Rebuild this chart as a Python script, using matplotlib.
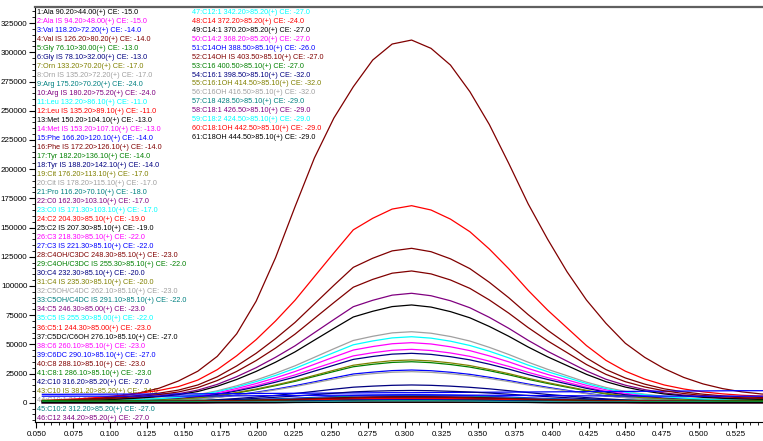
import numpy as np
import matplotlib
matplotlib.use("Agg")
import matplotlib.pyplot as plt
from matplotlib.ticker import MultipleLocator, FuncFormatter

plt.rcParams['font.family'] = ['Liberation Sans Narrow', 'Liberation Sans', 'DejaVu Sans']

# scan times (min)
t = [0.0540, 0.0672, 0.0804, 0.0936, 0.1068, 0.1200, 0.1332, 0.1464, 0.1596, 0.1728,
     0.1860, 0.1992, 0.2124, 0.2256, 0.2388, 0.2520, 0.2652, 0.2784, 0.2916, 0.3048,
     0.3180, 0.3312, 0.3444, 0.3576, 0.3708, 0.3840, 0.3972, 0.4104, 0.4236, 0.4368,
     0.4500, 0.4632, 0.4764, 0.4896, 0.5028, 0.5160, 0.5292, 0.5424, 0.5556]

labels = [
    "1:Ala 90.20>44.00(+) CE: -15.0", "2:Ala IS 94.20>48.00(+) CE: -15.0",
    "3:Val 118.20>72.20(+) CE: -14.0", "4:Val IS 126.20>80.20(+) CE: -14.0",
    "5:Gly 76.10>30.00(+) CE: -13.0", "6:Gly IS 78.10>32.00(+) CE: -13.0",
    "7:Orn 133.20>70.20(+) CE: -17.0", "8:Orn IS 135.20>72.20(+) CE: -17.0",
    "9:Arg 175.20>70.20(+) CE: -24.0", "10:Arg IS 180.20>75.20(+) CE: -24.0",
    "11:Leu 132.20>86.10(+) CE: -11.0", "12:Leu IS 135.20>89.10(+) CE: -11.0",
    "13:Met 150.20>104.10(+) CE: -13.0", "14:Met IS 153.20>107.10(+) CE: -13.0",
    "15:Phe 166.20>120.10(+) CE: -14.0", "16:Phe IS 172.20>126.10(+) CE: -14.0",
    "17:Tyr 182.20>136.10(+) CE: -14.0", "18:Tyr IS 188.20>142.10(+) CE: -14.0",
    "19:Cit 176.20>113.10(+) CE: -17.0", "20:Cit IS 178.20>115.10(+) CE: -17.0",
    "21:Pro 116.20>70.10(+) CE: -18.0", "22:C0 162.30>103.10(+) CE: -17.0",
    "23:C0 IS 171.30>103.10(+) CE: -17.0", "24:C2 204.30>85.10(+) CE: -19.0",
    "25:C2 IS 207.30>85.10(+) CE: -19.0", "26:C3 218.30>85.10(+) CE: -22.0",
    "27:C3 IS 221.30>85.10(+) CE: -22.0", "28:C4OH/C3DC 248.30>85.10(+) CE: -23.0",
    "29:C4OH/C3DC IS 255.30>85.10(+) CE: -22.0", "30:C4 232.30>85.10(+) CE: -20.0",
    "31:C4 IS 235.30>85.10(+) CE: -20.0", "32:C5OH/C4DC 262.10>85.10(+) CE: -23.0",
    "33:C5OH/C4DC IS 291.10>85.10(+) CE: -22.0", "34:C5 246.30>85.00(+) CE: -23.0",
    "35:C5 IS 255.30>85.00(+) CE: -22.0", "36:C5:1 244.30>85.00(+) CE: -23.0",
    "37:C5DC/C6OH 276.10>85.10(+) CE: -27.0", "38:C6 260.10>85.10(+) CE: -23.0",
    "39:C6DC 290.10>85.10(+) CE: -27.0", "40:C8 288.10>85.10(+) CE: -23.0",
    "41:C8:1 286.10>85.10(+) CE: -23.0", "42:C10 316.20>85.20(+) CE: -27.0",
    "43:C10 IS 381.20>85.20(+) CE: -34.0", "44:C10:1 314.20>85.20(+) CE: -27.0",
    "45:C10:2 312.20>85.20(+) CE: -27.0", "46:C12 344.20>85.20(+) CE: -27.0",
    "47:C12:1 342.20>85.20(+) CE: -27.0", "48:C14 372.20>85.20(+) CE: -24.0",
    "49:C14:1 370.20>85.20(+) CE: -27.0", "50:C14:2 368.20>85.20(+) CE: -27.0",
    "51:C14OH 388.50>85.10(+) CE: -26.0", "52:C14OH IS 403.50>85.10(+) CE: -27.0",
    "53:C16 400.50>85.10(+) CE: -27.0", "54:C16:1 398.50>85.10(+) CE: -32.0",
    "55:C16:1OH 414.50>85.10(+) CE: -32.0", "56:C16OH 416.50>85.10(+) CE: -32.0",
    "57:C18 428.50>85.10(+) CE: -29.0", "58:C18:1 426.50>85.10(+) CE: -29.0",
    "59:C18:2 424.50>85.10(+) CE: -29.0", "60:C18:1OH 442.50>85.10(+) CE: -29.0",
    "61:C18OH 444.50>85.10(+) CE: -29.0",
]

# intensities in thousands of counts, one list per MRM channel
s01 = [.2, .2, .2, .2, .2, .2, .3, .3, .3, .4, .4, .5, .6, .7, .8, 1.0, 1.1, 1.1, 1.2, 1.2, 1.2, 1.1, 1.1, 1.0, .9, .8, .7, .6, .5, .4, .4, .3, .3, .3, .3, .2, .2, .2, .2]
s02 = [.6, .8, 1.1, 1.4, 1.9, 2.5, 3.2, 4.2, 5.9, 8.6, 12.2, 16.4, 21.3, 26.7, 32.9, 39.1, 45.1, 48.1, 50.5, 51.4, 50.3, 47.9, 44.6, 40.1, 35.0, 29.3, 24.2, 19.5, 14.9, 11.1, 8.2, 6.2, 4.6, 3.6, 2.8, 2.3, 2.0, 1.7, 1.6]
s03 = [.9, .9, .9, 1.0, 1.0, 1.1, 1.2, 1.3, 1.5, 1.8, 2.2, 2.7, 3.3, 3.9, 4.6, 5.4, 6.1, 6.4, 6.7, 6.8, 6.7, 6.4, 6.0, 5.5, 4.9, 4.2, 3.6, 3.1, 2.5, 2.1, 1.8, 1.5, 1.3, 1.2, 1.1, 1.1, 1.0, 1.0, 1.0]
s04 = [1.5, 1.9, 2.8, 4.0, 5.9, 8.4, 12.4, 18.6, 27.0, 39.7, 59.0, 86.9, 124.2, 167.7, 209.6, 243.7, 270.5, 293.4, 307.1, 310.5, 303.4, 289.1, 266.3, 238.2, 204.9, 170.2, 140.0, 112.1, 87.9, 68.0, 50.9, 38.8, 29.2, 21.7, 16.1, 12.1, 9.3, 7.5, 6.2]
s05 = [.3, .3, .3, .4, .4, .4, .4, .5, .5, .6, .8, .9, 1.1, 1.3, 1.6, 1.8, 2.1, 2.2, 2.3, 2.3, 2.3, 2.2, 2.0, 1.9, 1.7, 1.4, 1.2, 1.1, .9, .7, .6, .5, .5, .4, .4, .4, .4, .4, .4]
s06 = [.2, .2, .3, .4, .6, .7, .9, 1.2, 1.7, 2.6, 3.6, 4.9, 6.3, 7.9, 9.7, 11.6, 13.3, 14.2, 14.9, 15.2, 14.9, 14.2, 13.2, 11.9, 10.3, 8.7, 7.1, 5.8, 4.4, 3.3, 2.4, 1.8, 1.4, 1.1, .8, .7, .6, .5, .5]
s07 = [1.0, 1.1, 1.1, 1.1, 1.1, 1.1, 1.2, 1.3, 1.4, 1.5, 1.7, 2.0, 2.3, 2.6, 2.9, 3.3, 3.6, 3.8, 4.0, 4.0, 3.9, 3.8, 3.6, 3.3, 3.0, 2.7, 2.4, 2.1, 1.9, 1.7, 1.5, 1.4, 1.3, 1.2, 1.2, 1.1, 1.1, 1.1, 1.1]
s08 = [.7, 1.0, 1.3, 1.7, 2.2, 2.9, 3.8, 5.0, 7.0, 10.2, 14.5, 19.5, 25.2, 31.6, 38.9, 46.2, 53.3, 56.9, 59.8, 60.8, 59.5, 56.7, 52.8, 47.4, 41.3, 34.7, 28.6, 23.1, 17.6, 13.1, 9.7, 7.3, 5.5, 4.3, 3.3, 2.7, 2.3, 2.1, 1.9]
s09 = [.8, .8, .9, .9, 1.0, 1.0, 1.1, 1.2, 1.4, 1.7, 2.0, 2.5, 3.0, 3.6, 4.2, 4.9, 5.5, 5.8, 6.1, 6.2, 6.1, 5.8, 5.4, 5.0, 4.4, 3.8, 3.3, 2.8, 2.3, 1.9, 1.6, 1.4, 1.2, 1.1, 1.0, 1.0, .9, .9, .9]
s10 = [.3, .3, .4, .4, .4, .4, .5, .5, .6, .7, .8, 1.0, 1.2, 1.4, 1.7, 1.9, 2.2, 2.3, 2.4, 2.4, 2.4, 2.3, 2.1, 1.9, 1.7, 1.5, 1.3, 1.1, .9, .8, .6, .5, .5, .4, .4, .4, .4, .4, .4]
s11 = [.6, .6, .6, .6, .7, .7, .8, .9, 1.0, 1.3, 1.6, 1.9, 2.4, 2.8, 3.4, 3.9, 4.4, 4.7, 4.9, 5.0, 4.9, 4.7, 4.4, 4.0, 3.6, 3.1, 2.6, 2.2, 1.8, 1.5, 1.2, 1.0, .9, .8, .8, .7, .7, .7, .6]
s12 = [2.0, 2.7, 3.5, 4.7, 6.2, 8.1, 10.5, 13.8, 19.4, 28.3, 40.2, 54.0, 70.0, 87.7, 108.0, 128.2, 148.0, 157.9, 165.8, 168.7, 165.0, 157.2, 146.4, 131.6, 114.7, 96.2, 79.3, 64.1, 48.9, 36.3, 27.0, 20.2, 15.2, 11.8, 9.3, 7.6, 6.4, 5.7, 5.2]
s13 = [1.1, 1.1, 1.1, 1.2, 1.2, 1.2, 1.3, 1.3, 1.4, 1.6, 1.8, 2.1, 2.4, 2.7, 3.1, 3.4, 3.7, 3.9, 4.1, 4.1, 4.0, 3.9, 3.7, 3.4, 3.1, 2.8, 2.5, 2.2, 2.0, 1.8, 1.6, 1.5, 1.4, 1.3, 1.3, 1.2, 1.2, 1.2, 1.2]
s14 = [.5, .7, 1.0, 1.3, 1.7, 2.2, 2.8, 3.7, 5.3, 7.7, 10.9, 14.6, 19.0, 23.8, 29.2, 34.7, 40.1, 42.8, 44.9, 45.7, 44.7, 42.6, 39.7, 35.6, 31.1, 26.0, 21.5, 17.4, 13.3, 9.8, 7.3, 5.5, 4.1, 3.2, 2.5, 2.1, 1.7, 1.6, 1.4]
s15 = [.3, .4, .6, .8, 1.0, 1.3, 1.7, 2.3, 3.2, 4.7, 6.7, 9.0, 11.6, 14.6, 17.9, 21.3, 24.6, 26.2, 27.5, 28.0, 27.4, 26.1, 24.3, 21.8, 19.0, 16.0, 13.2, 10.6, 8.1, 6.0, 4.5, 3.4, 2.5, 2.0, 1.5, 1.3, 1.1, 1.0, .9]
s16 = [1.6, 2.1, 2.8, 3.7, 4.9, 6.3, 8.2, 10.8, 15.2, 22.2, 31.5, 42.3, 54.9, 68.7, 84.6, 100.5, 115.9, 123.7, 130.0, 132.2, 129.3, 123.2, 114.8, 103.1, 89.9, 75.4, 62.1, 50.2, 38.3, 28.4, 21.2, 15.9, 11.9, 9.3, 7.3, 5.9, 5.0, 4.5, 4.1]
s17 = [.4, .6, .7, 1.0, 1.3, 1.7, 2.2, 2.9, 4.0, 5.9, 8.4, 11.2, 14.6, 18.3, 22.5, 26.7, 30.8, 32.9, 34.5, 35.1, 34.3, 32.7, 30.5, 27.4, 23.9, 20.0, 16.5, 13.3, 10.2, 7.5, 5.6, 4.2, 3.2, 2.5, 1.9, 1.6, 1.3, 1.2, 1.1]
s18 = [.5, .7, .9, 1.2, 1.6, 2.0, 2.6, 3.5, 4.9, 7.1, 10.1, 13.5, 17.6, 22.0, 27.1, 32.1, 37.1, 39.6, 41.6, 42.3, 41.4, 39.4, 36.7, 33.0, 28.8, 24.1, 19.9, 16.1, 12.3, 9.1, 6.8, 5.1, 3.8, 3.0, 2.3, 1.9, 1.6, 1.4, 1.3]
s19 = [.4, .6, .8, 1.0, 1.4, 1.8, 2.3, 3.0, 4.2, 6.1, 8.7, 11.7, 15.2, 19.0, 23.4, 27.8, 32.1, 34.3, 36.0, 36.6, 35.8, 34.1, 31.8, 28.5, 24.9, 20.9, 17.2, 13.9, 10.6, 7.9, 5.9, 4.4, 3.3, 2.6, 2.0, 1.6, 1.4, 1.2, 1.1]
s20 = [.3, .4, .6, .7, 1.0, 1.3, 1.6, 2.2, 3.1, 4.5, 6.3, 8.5, 11.0, 13.8, 17.0, 20.2, 23.3, 24.9, 26.1, 26.6, 26.0, 24.8, 23.1, 20.7, 18.1, 15.2, 12.5, 10.1, 7.7, 5.7, 4.3, 3.2, 2.4, 1.9, 1.5, 1.2, 1.0, .9, .8]
s21 = [.5, .5, .6, .6, .6, .7, .7, .8, 1.0, 1.2, 1.5, 1.8, 2.2, 2.7, 3.2, 3.7, 4.2, 4.4, 4.6, 4.7, 4.6, 4.4, 4.1, 3.7, 3.3, 2.9, 2.5, 2.1, 1.7, 1.4, 1.1, .9, .8, .7, .7, .6, .6, .6, .6]
s22 = [1.1, 1.5, 2.0, 2.6, 3.5, 4.5, 5.8, 7.7, 10.8, 15.7, 22.3, 30.0, 38.9, 48.7, 60.0, 71.2, 82.2, 87.7, 92.1, 93.7, 91.6, 87.3, 81.3, 73.1, 63.7, 53.4, 44.0, 35.6, 27.2, 20.1, 15.0, 11.2, 8.4, 6.6, 5.2, 4.2, 3.6, 3.2, 2.9]
s23 = [.7, .9, 1.2, 1.6, 2.1, 2.7, 3.5, 4.6, 6.5, 9.5, 13.4, 18.1, 23.4, 29.4, 36.2, 42.9, 49.6, 52.9, 55.5, 56.5, 55.3, 52.7, 49.0, 44.1, 38.4, 32.2, 26.6, 21.5, 16.4, 12.1, 9.0, 6.8, 5.1, 4.0, 3.1, 2.5, 2.1, 1.9, 1.8]
s24 = [.3, .3, .3, .3, .4, .4, .4, .5, .5, .6, .7, .9, 1.0, 1.2, 1.5, 1.7, 1.9, 2.0, 2.1, 2.1, 2.1, 2.0, 1.9, 1.7, 1.5, 1.3, 1.1, 1.0, .8, .7, .6, .5, .4, .4, .4, .3, .3, .3, .3]
s25 = [1.0, 1.3, 1.8, 2.3, 3.1, 4.0, 5.2, 6.9, 9.6, 14.1, 19.9, 26.8, 34.7, 43.5, 53.6, 63.6, 73.4, 78.3, 82.3, 83.7, 81.9, 78.0, 72.7, 65.3, 56.9, 47.7, 39.3, 31.8, 24.3, 18.0, 13.4, 10.0, 7.5, 5.9, 4.6, 3.8, 3.2, 2.8, 2.6]
s26 = [.7, .7, .7, .7, .8, .8, .9, 1.0, 1.2, 1.4, 1.7, 2.1, 2.5, 3.0, 3.6, 4.1, 4.6, 4.9, 5.1, 5.2, 5.1, 4.9, 4.6, 4.2, 3.7, 3.2, 2.8, 2.3, 1.9, 1.6, 1.3, 1.1, 1.0, .9, .9, .8, .8, .8, .8]
s27 = [7.2, 7.2, 7.3, 7.3, 7.4, 7.4, 7.5, 7.5, 7.6, 7.7, 7.8, 7.9, 8.0, 8.1, 8.2, 8.3, 8.4, 8.5, 8.6, 8.6, 8.7, 8.8, 8.9, 9.0, 9.1, 9.2, 9.3, 9.4, 9.5, 9.6, 9.7, 9.8, 9.9, 10.0, 10.1, 10.2, 10.3, 10.3, 10.4]
s28 = [1.4, 1.8, 2.4, 3.2, 4.2, 5.4, 7.0, 9.2, 13.0, 19.0, 26.8, 36.1, 46.8, 58.7, 72.2, 85.7, 98.9, 105.6, 110.9, 112.8, 110.3, 105.1, 97.9, 88.0, 76.7, 64.3, 53.0, 42.9, 32.7, 24.3, 18.0, 13.5, 10.2, 7.9, 6.2, 5.1, 4.3, 3.8, 3.5]
s29 = [2.0, 2.0, 2.0, 2.0, 2.0, 2.0, 2.0, 2.0, 2.1, 2.1, 2.1, 2.2, 2.2, 2.3, 2.3, 2.4, 2.4, 2.5, 2.5, 2.5, 2.5, 2.5, 2.4, 2.4, 2.3, 2.3, 2.2, 2.2, 2.1, 2.1, 2.1, 2.1, 2.0, 2.0, 2.0, 2.0, 2.0, 2.0, 2.0]
s30 = [.6, .7, .7, .8, .9, 1.0, 1.1, 1.3, 1.7, 2.2, 2.9, 3.7, 4.7, 5.7, 6.9, 8.1, 9.3, 9.9, 10.3, 10.5, 10.3, 9.8, 9.2, 8.3, 7.3, 6.2, 5.2, 4.3, 3.4, 2.7, 2.1, 1.7, 1.4, 1.2, 1.1, 1.0, .9, .8, .8]
s31 = [.2, .2, .2, .2, .2, .3, .3, .3, .3, .4, .5, .5, .6, .7, .8, .9, 1.0, 1.1, 1.1, 1.1, 1.1, 1.1, 1.0, .9, .9, .8, .7, .6, .5, .4, .4, .3, .3, .3, .3, .2, .2, .2, .2]
s32 = [.4, .4, .4, .4, .5, .5, .5, .5, .6, .7, .8, 1.0, 1.2, 1.4, 1.6, 1.9, 2.1, 2.3, 2.4, 2.4, 2.3, 2.2, 2.1, 1.9, 1.7, 1.5, 1.3, 1.1, .9, .8, .7, .6, .5, .5, .5, .4, .4, .4, .4]
s33 = [1.0, 1.0, 1.0, 1.1, 1.1, 1.1, 1.2, 1.2, 1.3, 1.5, 1.7, 1.9, 2.2, 2.5, 2.8, 3.2, 3.5, 3.7, 3.8, 3.9, 3.8, 3.7, 3.5, 3.2, 2.9, 2.6, 2.3, 2.1, 1.8, 1.6, 1.5, 1.4, 1.3, 1.2, 1.1, 1.1, 1.1, 1.0, 1.0]
s34 = [.2, .2, .2, .2, .2, .2, .3, .3, .3, .4, .4, .5, .6, .7, .8, .9, 1.0, 1.1, 1.1, 1.2, 1.1, 1.1, 1.0, 1.0, .9, .8, .7, .6, .5, .4, .4, .3, .3, .3, .3, .2, .2, .2, .2]
s35 = [.3, .3, .3, .4, .4, .4, .4, .5, .5, .6, .8, .9, 1.1, 1.3, 1.5, 1.8, 2.0, 2.1, 2.2, 2.2, 2.2, 2.1, 2.0, 1.8, 1.6, 1.4, 1.2, 1.0, .9, .7, .6, .5, .5, .4, .4, .4, .4, .4, .4]
s36 = [.2, .2, .2, .2, .2, .2, .3, .3, .3, .4, .4, .5, .6, .7, .8, 1.0, 1.1, 1.1, 1.2, 1.2, 1.2, 1.1, 1.1, 1.0, .9, .8, .7, .6, .5, .4, .4, .3, .3, .3, .3, .2, .2, .2, .2]
s37 = [.6, .6, .6, .7, .7, .8, .8, .9, 1.1, 1.3, 1.6, 2.0, 2.4, 2.9, 3.5, 4.0, 4.5, 4.8, 5.0, 5.1, 5.0, 4.8, 4.5, 4.1, 3.6, 3.1, 2.7, 2.2, 1.8, 1.5, 1.2, 1.0, .9, .8, .8, .7, .7, .7, .6]
s38 = [.3, .3, .3, .4, .4, .4, .4, .5, .5, .6, .8, .9, 1.1, 1.3, 1.6, 1.8, 2.0, 2.2, 2.3, 2.3, 2.2, 2.1, 2.0, 1.8, 1.6, 1.4, 1.2, 1.1, .9, .7, .6, .5, .5, .4, .4, .4, .4, .4, .4]
s39 = [5.6, 5.6, 5.6, 5.6, 5.6, 5.7, 5.7, 5.7, 5.8, 5.8, 5.9, 6.0, 6.1, 6.2, 6.3, 6.4, 6.5, 6.6, 6.6, 6.7, 6.6, 6.6, 6.5, 6.4, 6.3, 6.2, 6.1, 6.0, 5.9, 5.8, 5.8, 5.7, 5.7, 5.6, 5.6, 5.6, 5.6, 5.6, 5.6]
s40 = [1.0, 1.0, 1.1, 1.1, 1.1, 1.1, 1.2, 1.2, 1.3, 1.5, 1.7, 1.9, 2.2, 2.5, 2.9, 3.2, 3.5, 3.7, 3.9, 3.9, 3.8, 3.7, 3.5, 3.2, 2.9, 2.6, 2.3, 2.1, 1.8, 1.6, 1.5, 1.4, 1.3, 1.2, 1.2, 1.1, 1.1, 1.1, 1.0]
s41 = [.1, .1, .1, .1, .1, .1, .1, .1, .1, .2, .2, .2, .2, .3, .3, .3, .4, .4, .4, .4, .4, .4, .4, .3, .3, .3, .2, .2, .2, .2, .2, .1, .1, .1, .1, .1, .1, .1, .1]
s42 = [.2, .2, .2, .2, .2, .2, .2, .3, .3, .3, .4, .5, .6, .7, .8, .9, 1.0, 1.0, 1.1, 1.1, 1.1, 1.0, 1.0, .9, .8, .7, .7, .6, .5, .4, .3, .3, .3, .3, .2, .2, .2, .2, .2]
s43 = [.1, .1, .1, .1, .1, .1, .1, .1, .2, .2, .2, .2, .3, .3, .3, .4, .4, .4, .5, .5, .5, .4, .4, .4, .3, .3, .3, .2, .2, .2, .2, .1, .1, .1, .1, .1, .1, .1, .1]
s44 = [.2, .2, .2, .2, .2, .2, .3, .3, .3, .3, .4, .5, .6, .7, .8, .9, 1.0, 1.1, 1.1, 1.2, 1.1, 1.1, 1.0, .9, .8, .8, .7, .6, .5, .4, .4, .3, .3, .3, .2, .2, .2, .2, .2]
s45 = [.1, .1, .1, .1, .1, .1, .1, .1, .1, .1, .2, .2, .2, .2, .3, .3, .3, .3, .4, .4, .4, .3, .3, .3, .3, .2, .2, .2, .2, .1, .1, .1, .1, .1, .1, .1, .1, .1, .1]
s46 = [.1, .1, .1, .1, .1, .1, .1, .1, .1, .2, .2, .2, .3, .3, .3, .4, .4, .4, .4, .4, .4, .4, .4, .4, .3, .3, .3, .2, .2, .2, .2, .1, .1, .1, .1, .1, .1, .1, .1]
s47 = [.2, .2, .2, .2, .2, .2, .3, .3, .3, .4, .4, .5, .6, .7, .8, .9, 1.0, 1.1, 1.1, 1.1, 1.1, 1.1, 1.0, .9, .9, .8, .7, .6, .5, .4, .4, .3, .3, .3, .3, .2, .2, .2, .2]
s48 = [.9, 1.0, 1.0, 1.0, 1.0, 1.1, 1.1, 1.2, 1.3, 1.4, 1.6, 1.8, 2.1, 2.4, 2.7, 3.0, 3.3, 3.5, 3.6, 3.7, 3.6, 3.5, 3.3, 3.1, 2.8, 2.5, 2.3, 2.0, 1.8, 1.6, 1.4, 1.3, 1.2, 1.2, 1.1, 1.1, 1.1, 1.0, 1.0]
s49 = [.3, .3, .3, .4, .4, .4, .5, .5, .6, .7, .8, 1.0, 1.2, 1.4, 1.7, 1.9, 2.2, 2.3, 2.4, 2.5, 2.4, 2.3, 2.2, 2.0, 1.8, 1.5, 1.3, 1.1, .9, .8, .6, .5, .5, .4, .4, .4, .4, .4, .4]
s50 = [.2, .2, .2, .2, .2, .2, .3, .3, .3, .4, .4, .5, .6, .7, .8, .9, 1.0, 1.1, 1.2, 1.2, 1.2, 1.1, 1.0, 1.0, .9, .8, .7, .6, .5, .4, .4, .3, .3, .3, .3, .2, .2, .2, .2]
s51 = [.3, .3, .3, .4, .4, .4, .4, .5, .5, .6, .8, .9, 1.1, 1.3, 1.6, 1.8, 2.1, 2.2, 2.3, 2.3, 2.3, 2.2, 2.0, 1.9, 1.7, 1.4, 1.2, 1.1, .9, .7, .6, .5, .5, .4, .4, .4, .4, .4, .4]
s52 = [.6, .6, .6, .6, .7, .7, .8, .9, 1.0, 1.3, 1.6, 1.9, 2.3, 2.8, 3.3, 3.8, 4.3, 4.6, 4.8, 4.9, 4.8, 4.6, 4.3, 3.9, 3.5, 3.0, 2.6, 2.2, 1.8, 1.5, 1.2, 1.0, .9, .8, .8, .7, .7, .7, .6]
s53 = [1.0, 1.0, 1.0, 1.0, 1.0, 1.0, 1.0, 1.0, 1.1, 1.1, 1.1, 1.2, 1.2, 1.3, 1.3, 1.4, 1.4, 1.5, 1.5, 1.5, 1.5, 1.5, 1.4, 1.4, 1.3, 1.3, 1.2, 1.2, 1.1, 1.1, 1.1, 1.0, 1.0, 1.0, 1.0, 1.0, 1.0, 1.0, 1.0]
s54 = [.1, .1, .1, .1, .1, .1, .1, .1, .1, .2, .2, .2, .2, .3, .3, .3, .4, .4, .4, .4, .4, .4, .4, .3, .3, .3, .2, .2, .2, .2, .2, .1, .1, .1, .1, .1, .1, .1, .1]
s55 = [.2, .2, .2, .2, .2, .2, .3, .3, .3, .4, .4, .5, .6, .7, .8, 1.0, 1.1, 1.1, 1.2, 1.2, 1.2, 1.1, 1.1, 1.0, .9, .8, .7, .6, .5, .4, .4, .3, .3, .3, .3, .2, .2, .2, .2]
s56 = [.1, .1, .1, .1, .1, .1, .1, .1, .1, .1, .2, .2, .2, .2, .3, .3, .3, .3, .3, .3, .3, .3, .3, .3, .2, .2, .2, .2, .2, .1, .1, .1, .1, .1, .1, .1, .1, .1, .1]
s57 = [.2, .2, .2, .2, .2, .2, .3, .3, .3, .4, .4, .5, .6, .7, .8, .9, 1.0, 1.1, 1.2, 1.2, 1.2, 1.1, 1.0, .9, .9, .8, .7, .6, .5, .4, .4, .3, .3, .3, .3, .2, .2, .2, .2]
s58 = [.1, .1, .1, .1, .1, .1, .1, .1, .1, .2, .2, .2, .2, .3, .3, .3, .4, .4, .4, .4, .4, .4, .4, .3, .3, .3, .2, .2, .2, .2, .2, .1, .1, .1, .1, .1, .1, .1, .1]
s59 = [.2, .2, .2, .2, .2, .2, .3, .3, .3, .4, .4, .5, .6, .7, .8, 1.0, 1.0, 1.1, 1.2, 1.2, 1.2, 1.1, 1.1, 1.0, .9, .8, .7, .6, .5, .4, .4, .3, .3, .3, .3, .2, .2, .2, .2]
s60 = [.1, .1, .1, .1, .1, .1, .1, .1, .1, .2, .2, .2, .2, .3, .3, .3, .3, .4, .4, .4, .4, .4, .3, .3, .3, .3, .2, .2, .2, .2, .1, .1, .1, .1, .1, .1, .1, .1, .1]
s61 = [.1, .1, .1, .1, .1, .1, .1, .1, .1, .2, .2, .2, .2, .3, .3, .3, .4, .4, .4, .4, .4, .4, .4, .3, .3, .3, .2, .2, .2, .2, .2, .1, .1, .1, .1, .1, .1, .1, .1]

series = [s01, s02, s03, s04, s05, s06, s07, s08, s09, s10, s11, s12, s13, s14, s15, s16,
          s17, s18, s19, s20, s21, s22, s23, s24, s25, s26, s27, s28, s29, s30, s31, s32,
          s33, s34, s35, s36, s37, s38, s39, s40, s41, s42, s43, s44, s45, s46, s47, s48,
          s49, s50, s51, s52, s53, s54, s55, s56, s57, s58, s59, s60, s61]

# the instrument software cycles through 12 colours
palette = ['#000000', '#ff00ff', '#0000ff', '#800000', '#008000', '#000080',
           '#808000', '#a0a0a0', '#008080', '#800080', '#00ffff', '#ff0000']

fig = plt.figure(figsize=(7.63, 4.41), dpi=100)
ax = fig.add_axes([35 / 763, 1 - 422 / 441, 728 / 763, 415 / 441])

for k, s in enumerate(series):
    ax.plot(t, np.array(s) * 1000, color=palette[k % 12], lw=0.9, zorder=2)

ax.set_xlim(0.049, 0.5435)
ax.set_ylim(-16500, 338800)

ax.xaxis.set_major_locator(MultipleLocator(0.025))
ax.xaxis.set_minor_locator(MultipleLocator(0.005))
ax.xaxis.set_major_formatter(FuncFormatter(lambda v, p: "%.3f" % v))
ax.yaxis.set_major_locator(MultipleLocator(25000))
ax.yaxis.set_minor_locator(MultipleLocator(5000))
ax.yaxis.set_major_formatter(FuncFormatter(lambda v, p: "%d" % v if v >= 0 else ""))
ax.tick_params(axis='both', which='major', length=4, width=0.8, labelsize=5.8, pad=1.5)
ax.tick_params(axis='x', which='major', pad=2.5)
ax.tick_params(axis='both', which='minor', length=2, width=0.6)

ax.spines['right'].set_visible(False)
ax.spines['top'].set_color('#606060')
ax.spines['top'].set_linewidth(1.6)
for side in ['left', 'bottom']:
    ax.spines[side].set_linewidth(0.8)

# channel legend written straight onto the plot, under the traces
for k, lab in enumerate(labels):
    if k < 46:
        x = 2 / 728
        y = (422 - (12.3 + k * 9.02)) / 415
    else:
        x = 157 / 728
        y = (422 - (12.3 + (k - 46) * 8.96)) / 415
    ax.text(x, y, lab, transform=ax.transAxes, color=palette[k % 12],
            fontsize=5.2, va='center', ha='left', zorder=1)

fig.savefig("out.png", dpi=100)
